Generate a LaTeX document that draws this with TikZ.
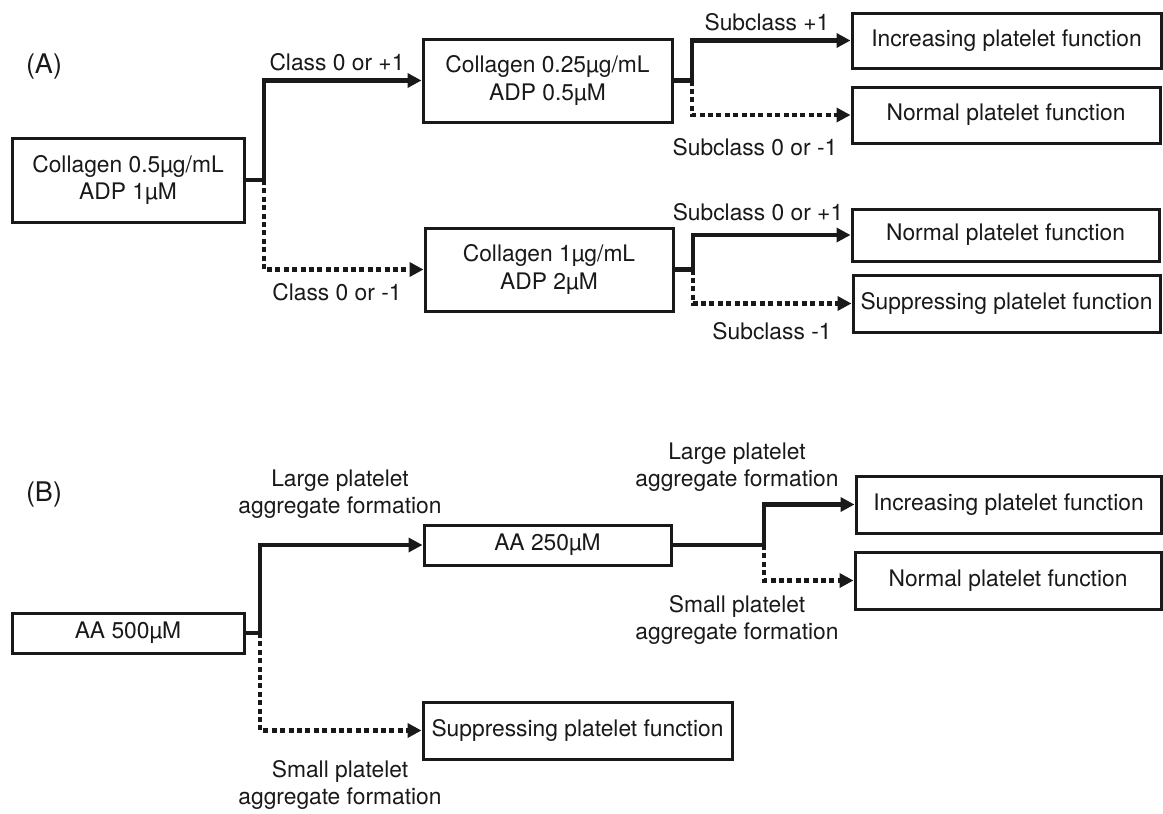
\documentclass[tikz,border=0pt]{standalone}
\usepackage{fontspec}
\setmainfont{TeX Gyre Heros}
\usetikzlibrary{arrows.meta}
\begin{document}
\begin{tikzpicture}[x=0.5pt,y=-0.5pt,
  every node/.style={font=\fontsize{11.4}{13.8}\selectfont, inner sep=0pt, align=center, text=black!90},
  bx/.style={draw=black!90, line width=1.5pt, fill=white},
  panel/.style={font=\fontsize{13.5}{16}\selectfont},
  sol/.style={line width=2.2pt, draw=black!90, line join=miter, -{Triangle[length=7pt,width=7pt]}},
  stub/.style={line width=2.2pt, draw=black!90},
  dot/.style={line width=2.2pt, draw=black!90, dash pattern=on 2.5pt off 1.7pt, -{Triangle[length=7pt,width=7pt]}}]
\useasboundingbox (0,0) rectangle (1163,814);

% ---------- (A) ----------
\node[panel] (lA) at (44,67) {(A)};
\node[bx, minimum width=116pt, minimum height=42pt] (A1) at (128,180) {Collagen 0.5µg/mL\\ADP 1µM};
\node[bx, minimum width=124.5pt, minimum height=41.5pt] (A2) at (547.5,80.5) {Collagen 0.25µg/mL\\ADP 0.5µM};
\node[bx, minimum width=124pt, minimum height=41.5pt] (A3) at (549,269.5) {Collagen 1µg/mL\\ADP 2µM};
\node[bx, minimum width=154.5pt, minimum height=27.5pt] (A4) at (1006.5,40.5) {Increasing platelet function};
\node[bx, minimum width=154pt, minimum height=28pt] (A5) at (1006,115) {Normal platelet function};
\node[bx, minimum width=153.5pt, minimum height=26pt] (A6) at (1005.5,235) {Normal platelet function};
\node[bx, minimum width=153.5pt, minimum height=28.5pt] (A7) at (1006.5,303.5) {Suppressing platelet function};

\coordinate (jA) at (264,180);
\coordinate (jA2) at (692,80.5);
\coordinate (jA3) at (693,269.5);

\draw[dot] (jA) |- (A3.west);
\draw[stub] (A1.east) -- (jA);
\draw[sol] (jA) |- (A2.west);

\draw[dot] (jA2) |- (A5.west);
\draw[stub] (A2.east) -- (jA2);
\draw[sol] (jA2) |- (A4.west);

\draw[dot] (jA3) |- (A7.west);
\draw[stub] (A3.east) -- (jA3);
\draw[sol] (jA3) |- (A6.west);

\node (c1) at (337,62) {Class 0 or +1};
\node (c2) at (337,292) {Class 0 or -1};
\node (s1) at (767,22) {Subclass +1};
\node (s2) at (755,147) {Subclass 0 or -1};
\node (s3) at (758,212) {Subclass 0 or +1};
\node (s4) at (772,331) {Subclass -1};

% ---------- (B) ----------
\node[panel] (lB) at (44,495) {(B)};
\node[bx, minimum width=116pt, minimum height=20pt] (B1) at (128,633) {AA 500µM};
\node[bx, minimum width=123.5pt, minimum height=20pt] (B2) at (547.5,545) {AA 250µM};
\node[bx, minimum width=154.5pt, minimum height=28.5pt] (B3) at (577.5,730.5) {Suppressing platelet function};
\node[bx, minimum width=152.5pt, minimum height=28.5pt] (B4) at (1008.5,504.5) {Increasing platelet function};
\node[bx, minimum width=153pt, minimum height=28.5pt] (B5) at (1008,580.5) {Normal platelet function};

\coordinate (jB) at (260,633);
\coordinate (jB2) at (764,545);

\draw[dot] (jB) |- (B3.west);
\draw[stub] (B1.east) -- (jB);
\draw[sol] (jB) |- (B2.west);

\draw[dot] (jB2) |- (B5.west);
\draw[stub] (B2.east) -- (jB2);
\draw[sol] (jB2) |- (B4.west);

\node (l1) at (340,494) {Large platelet\\aggregate formation};
\node (l2) at (340,785) {Small platelet\\aggregate formation};
\node (l3) at (737,467) {Large platelet\\aggregate formation};
\node (l4) at (737,620) {Small platelet\\aggregate formation};
\end{tikzpicture}
\end{document}
